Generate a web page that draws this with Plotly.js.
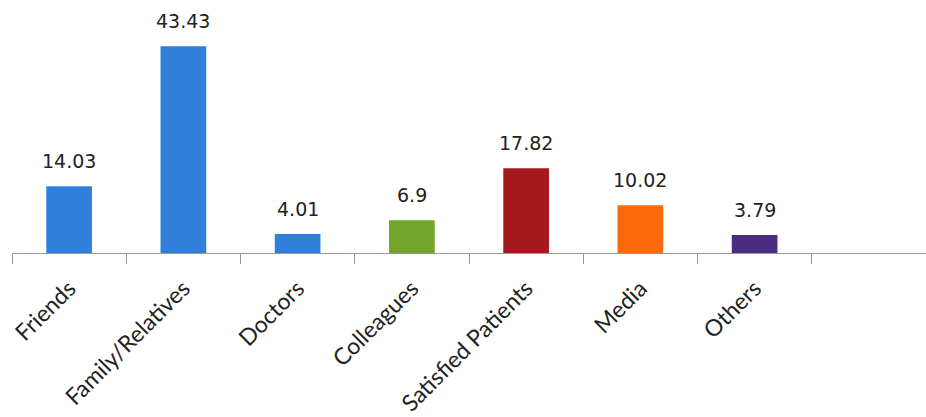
<!DOCTYPE html>
<html>
<head>
<meta charset="utf-8">
<script src="https://cdn.plot.ly/plotly-3.0.1.min.js"></script>
<style>html,body{margin:0;padding:0;background:#fff;}#chart{width:926px;height:417px;}</style>
</head>
<body>
<div id="chart"></div>
<script>
const categories = ["Friends", "Family/Relatives", "Doctors", "Colleagues", "Satisfied Patients", "Media", "Others"];
const values = [14.03, 43.43, 4.01, 6.9, 17.82, 10.02, 3.79];
const labels = ["14.03", "43.43", "4.01", "6.9", "17.82", "10.02", "3.79"];
const colors = ["#3080DB", "#3080DB", "#3080DB", "#73A52A", "#A5191C", "#FA6A0A", "#4A2C82"];

// one empty slot after the last category, as in the reference
const xCats = categories.concat([" "]);
const yVals = values.concat([null]);

const trace = {
  type: "bar",
  x: xCats,
  y: yVals,
  marker: {color: colors.concat(["rgba(0,0,0,0)"])},
  hoverinfo: "skip"
};

const annotations = categories.map((c, i) => ({
  x: c, y: values[i], text: labels[i],
  xref: "x", yref: "y", showarrow: false,
  yanchor: "bottom", yshift: 12,
  font: {family: "DejaVu Sans", size: 19, color: "#222"}
}));

const layout = {
  width: 926, height: 417,
  margin: {l: 12, r: 0, t: 15, b: 164},
  paper_bgcolor: "#fff", plot_bgcolor: "#fff",
  showlegend: false,
  bargap: 0.6,
  xaxis: {
    type: "category",
    range: [-0.5, 7.5],
    tickson: "boundaries",
    ticks: "outside", ticklen: 10, tickcolor: "#999", tickwidth: 1,
    showline: true, linecolor: "#999", linewidth: 1,
    showgrid: false, zeroline: false,
    tickangle: -45,
    ticklabelstandoff: 12,
    tickfont: {family: "Lato", size: 23, color: "#222"}
  },
  yaxis: {
    range: [0, 50],
    visible: false,
    showgrid: false, zeroline: false
  },
  annotations: annotations
};

Plotly.newPlot("chart", [trace], layout, {displayModeBar: false, staticPlot: true});
</script>
</body>
</html>
